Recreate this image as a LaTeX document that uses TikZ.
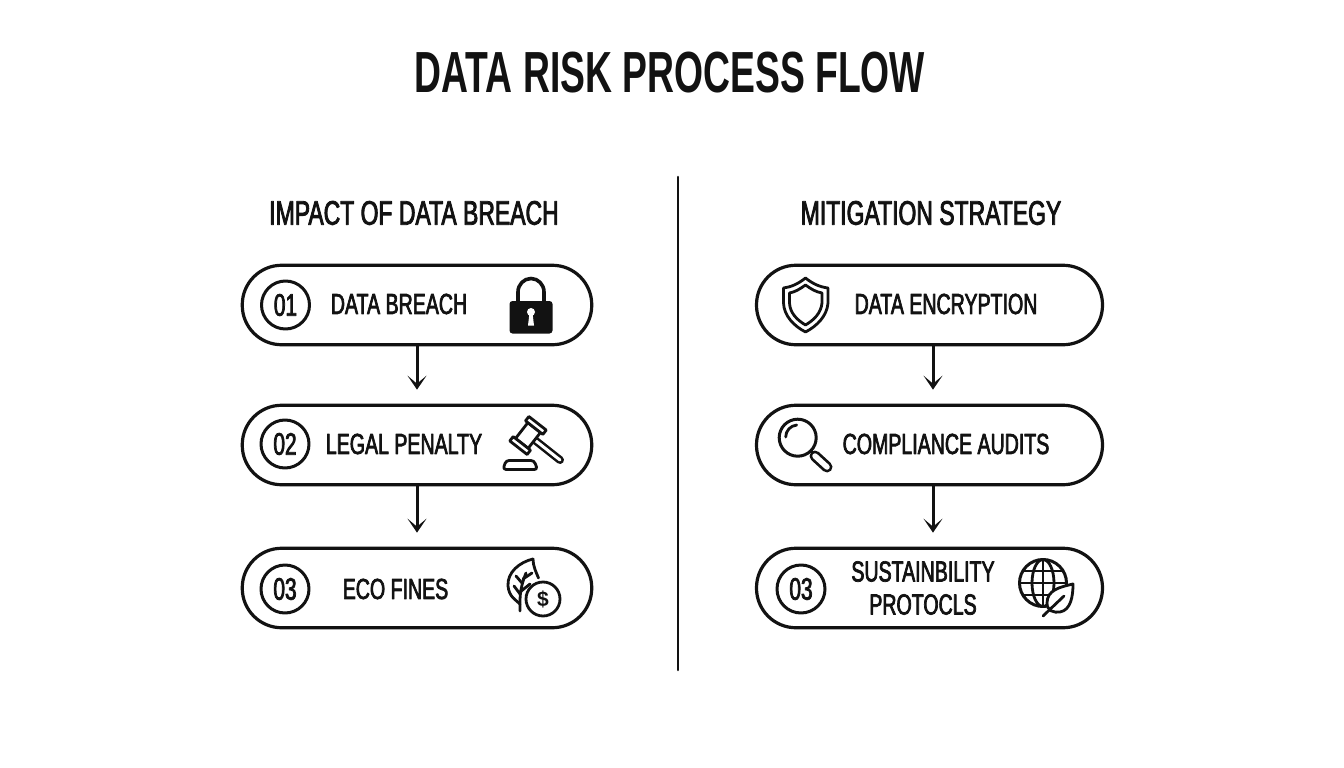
\documentclass[tikz,border=0pt]{standalone}
\usepackage{fontspec}
\usetikzlibrary{arrows.meta}
\newfontfamily\narrowfont[FakeStretch=0.675,FakeBold=2.4]{Liberation Sans}
\newfontfamily\titlefont[FakeStretch=0.643]{Liberation Sans}
\newfontfamily\coinfont{Liberation Sans}
\begin{document}
\begin{tikzpicture}
[x=1pt,y=-1pt,line cap=round,line join=round,
% Styles
pill/.style={draw=inkcolor,line width=3.2pt,rounded corners=39.5pt,minimum height=79.5pt,inner sep=0pt},
badge/.style={circle,draw=inkcolor,line width=3pt,minimum size=48pt,inner sep=0pt,text=inkcolor,font=\narrowfont\fontsize{31}{33}\selectfont},
label/.style={text=inkcolor,inner sep=0pt,align=center,font=\narrowfont\fontsize{29}{32}\selectfont},
heading/.style={text=inkcolor,inner sep=0pt,font=\narrowfont\fontsize{34}{38}\selectfont},
flow/.style={draw=inkcolor,line width=3pt,shorten >=14pt,-{Stealth[length=14pt,width=19pt,inset=8pt]}},
icon line/.style={draw=inkcolor,line width=2.8pt}]
% Colors
\colorlet{inkcolor}{black!93}

\useasboundingbox (0,0) rectangle (1344,768);

% Titles
\node[text=inkcolor,inner sep=0pt,font=\titlefont\bfseries\fontsize{58}{62}\selectfont] (title) at (670,73) {DATA RISK PROCESS FLOW};
\node[heading] (left head) at (414,213) {IMPACT OF DATA BREACH};
\node[heading] (right head) at (931,213) {MITIGATION STRATEGY};
\coordinate (rule top) at (678,177);
\coordinate (rule end) at (678,670);
\draw[draw=inkcolor,line width=2.6pt] (rule top) -- (rule end);

% Pills
\foreach \name/\x/\y/\w in {breach/417/305/349.5,penalty/417/445/349.5,fines/417/588/349.5,encrypt/929.5/305/346,audits/929.5/445/346,protocols/929.5/588/346}
\node[pill,minimum width=\w pt] (\name) at (\x,\y) {};

% Numbers
\node[badge] (one) at (285.5,305) {01};
\node[badge] (two) at (285,444) {02};
\node[badge] (three) at (285,589) {03};
\node[badge] (three b) at (801,589) {03};

% Labels
\node[label] (breach text) at (399,304) {DATA BREACH};
\node[label] (penalty text) at (404,444) {LEGAL PENALTY};
\node[label] (fines text) at (395.5,589) {ECO FINES};
\node[label] (encrypt text) at (946,304) {DATA ENCRYPTION};
\node[label] (audits text) at (946,444) {COMPLIANCE AUDITS};
\node[label] (protocols text) at (923,588) {SUSTAINBILITY\\[1pt]PROTOCLS};

% Arrows
\draw[flow] (breach.south) -- (penalty.north);
\draw[flow] (penalty.south) -- (fines.north);
\draw[flow] ([xshift=3.5pt]encrypt.south) -- ([xshift=3.5pt]audits.north);
\draw[flow] ([xshift=3.5pt]audits.south) -- ([xshift=3.5pt]protocols.north);

% Lock
\draw[draw=inkcolor,line width=3.6pt] (518,302) -- (518,292) arc(180:360:13 and 13.5) -- (544,302);
\fill[inkcolor,rounded corners=3pt] (509.5,301) rectangle (552.5,333.5);
\fill[white] (531,312) circle (4pt);
\fill[white] (529.5,313) -- (532.5,313) -- (534,325.5) -- (528,325.5) -- cycle;

% Gavel
\draw[inkcolor,line width=8pt] (536,441) -- (560,460);
\draw[white,line width=3pt] (536,441) -- (560,460);
\begin{scope}[shift={(528,435.5)},rotate=-38]
\draw[icon line,fill=white] (-8,-10) rectangle (8,10);
\draw[icon line,fill=white] (-11,-15.5) rectangle (11,-10);
\draw[icon line,fill=white] (-11,10) rectangle (11,15.5);
\end{scope}
\draw[icon line,rounded corners=3pt] (506,460.5) -- (534,460.5) -- (537.5,469.5) -- (503,469.5) -- cycle;

% Leaf and coin
\draw[icon line] (533,559) .. controls (520,562) and (507,572) .. (508,586) .. controls (509,597) and (516,600) .. (520,604);
\draw[icon line] (533,559) .. controls (533,566) and (536,572) .. (538.5,578);
\draw[icon line] (520,611) .. controls (520,600) and (519,590) .. (526,573);
\draw[icon line] (520,594) -- (514,586);
\draw[icon line] (522,583) -- (516,576);
\draw[icon line] (523,579) -- (532,573);
\draw[icon line] (520,592) -- (530,584);
\draw[icon line,fill=white] (543,599) circle (17pt);
\node[text=inkcolor,inner sep=0pt,font=\coinfont\bfseries\fontsize{21}{22}\selectfont] (coin) at (543,599) {\$};

% Shield
\draw[icon line] (805.5,278) .. controls (813,284) and (820,287) .. (828,288) -- (828,303) .. controls (827,316) and (817,326) .. (805.5,332) .. controls (794,326) and (784,316) .. (783.5,303) -- (783.5,288) .. controls (791,287) and (798,284) .. (805.5,278) -- cycle;
\draw[icon line] (805.5,285) .. controls (811,289) and (816,292) .. (822,293) -- (822,303) .. controls (821,313) and (814,320) .. (805.5,325) .. controls (797,320) and (790,313) .. (789.5,303) -- (789.5,293) .. controls (795,292) and (800,289) .. (805.5,285) -- cycle;

% Magnifier
\draw[icon line,line width=3pt] (797.7,437.7) circle (18.5pt);
\draw[icon line] (785.7,437) arc(180:265:12);
\draw[icon line] (811,451) -- (815,455);
\draw[inkcolor,line width=11pt] (815,456) -- (827,467);
\draw[white,line width=5.5pt] (815,456) -- (827,467);

% Globe and leaf
\draw[icon line,line width=3pt] (1043,583) circle (23.5pt);
\draw[icon line] (1043,583) ellipse (11pt and 23.5pt);
\draw[icon line] (1043,559.5) -- (1043,606.5);
\draw[icon line] (1019.5,583) -- (1066.5,583);
\draw[icon line] (1023,571) -- (1063,571);
\draw[icon line] (1023,595) -- (1063,595);
\draw[icon line,fill=white] (1073,584) .. controls (1060,587) and (1047,590) .. (1047,603) .. controls (1047,611) and (1054,613) .. (1060,612) .. controls (1071,610) and (1073,596) .. (1073,584) -- cycle;
\draw[icon line] (1043,616) -- (1064,596);
\end{tikzpicture}
\end{document}
